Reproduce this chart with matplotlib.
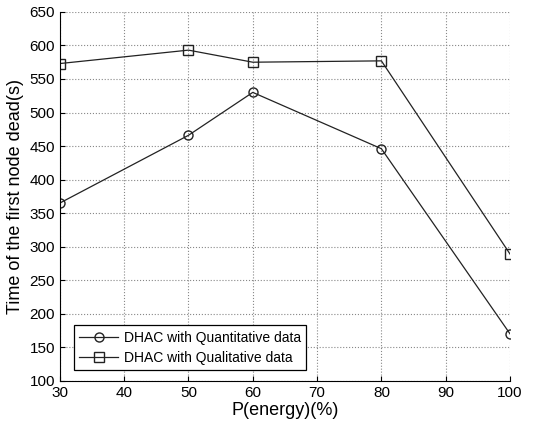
import matplotlib.pyplot as plt

plt.rcParams['font.family'] = ['Liberation Sans', 'DejaVu Sans']

energy = [30, 50, 60, 80, 100]
quantitative = [365, 466, 530, 446, 170]
qualitative = [573, 593, 575, 577, 289]

fig = plt.figure(figsize=(5.49, 4.25), dpi=100)
ax = fig.add_axes([0.109, 0.104, 0.82, 0.868])

ax.plot(energy, quantitative, color="#222222", lw=0.9, marker="o", ms=6.5,
        mfc="none", mec="#222222", label="DHAC with Quantitative data")
ax.plot(energy, qualitative, color="#222222", lw=0.9, marker="s", ms=6.5,
        mfc="none", mec="#222222", label="DHAC with Qualitative data")

ax.set_xlim(30, 100)
ax.set_ylim(100, 650)
ax.set_xticks(range(30, 101, 10))
ax.set_yticks(range(100, 651, 50))
ax.grid(True, linestyle=":", color="#888888", lw=0.8)
ax.spines["top"].set_visible(False)
ax.spines["right"].set_visible(False)
ax.tick_params(direction="in", labelsize=11)

ax.set_xlabel("P(energy)(%)", fontsize=13, labelpad=2)
ax.set_ylabel("Time of the first node dead(s)", fontsize=13, labelpad=4)

leg = ax.legend(loc="lower left", fontsize=10, fancybox=False, framealpha=1,
                edgecolor="black", handlelength=2.8, handletextpad=0.4,
                borderpad=0.4, labelspacing=0.4, bbox_to_anchor=(0.015, 0.01))
leg.get_frame().set_linewidth(0.9)

fig.savefig("out.png", dpi=100)
